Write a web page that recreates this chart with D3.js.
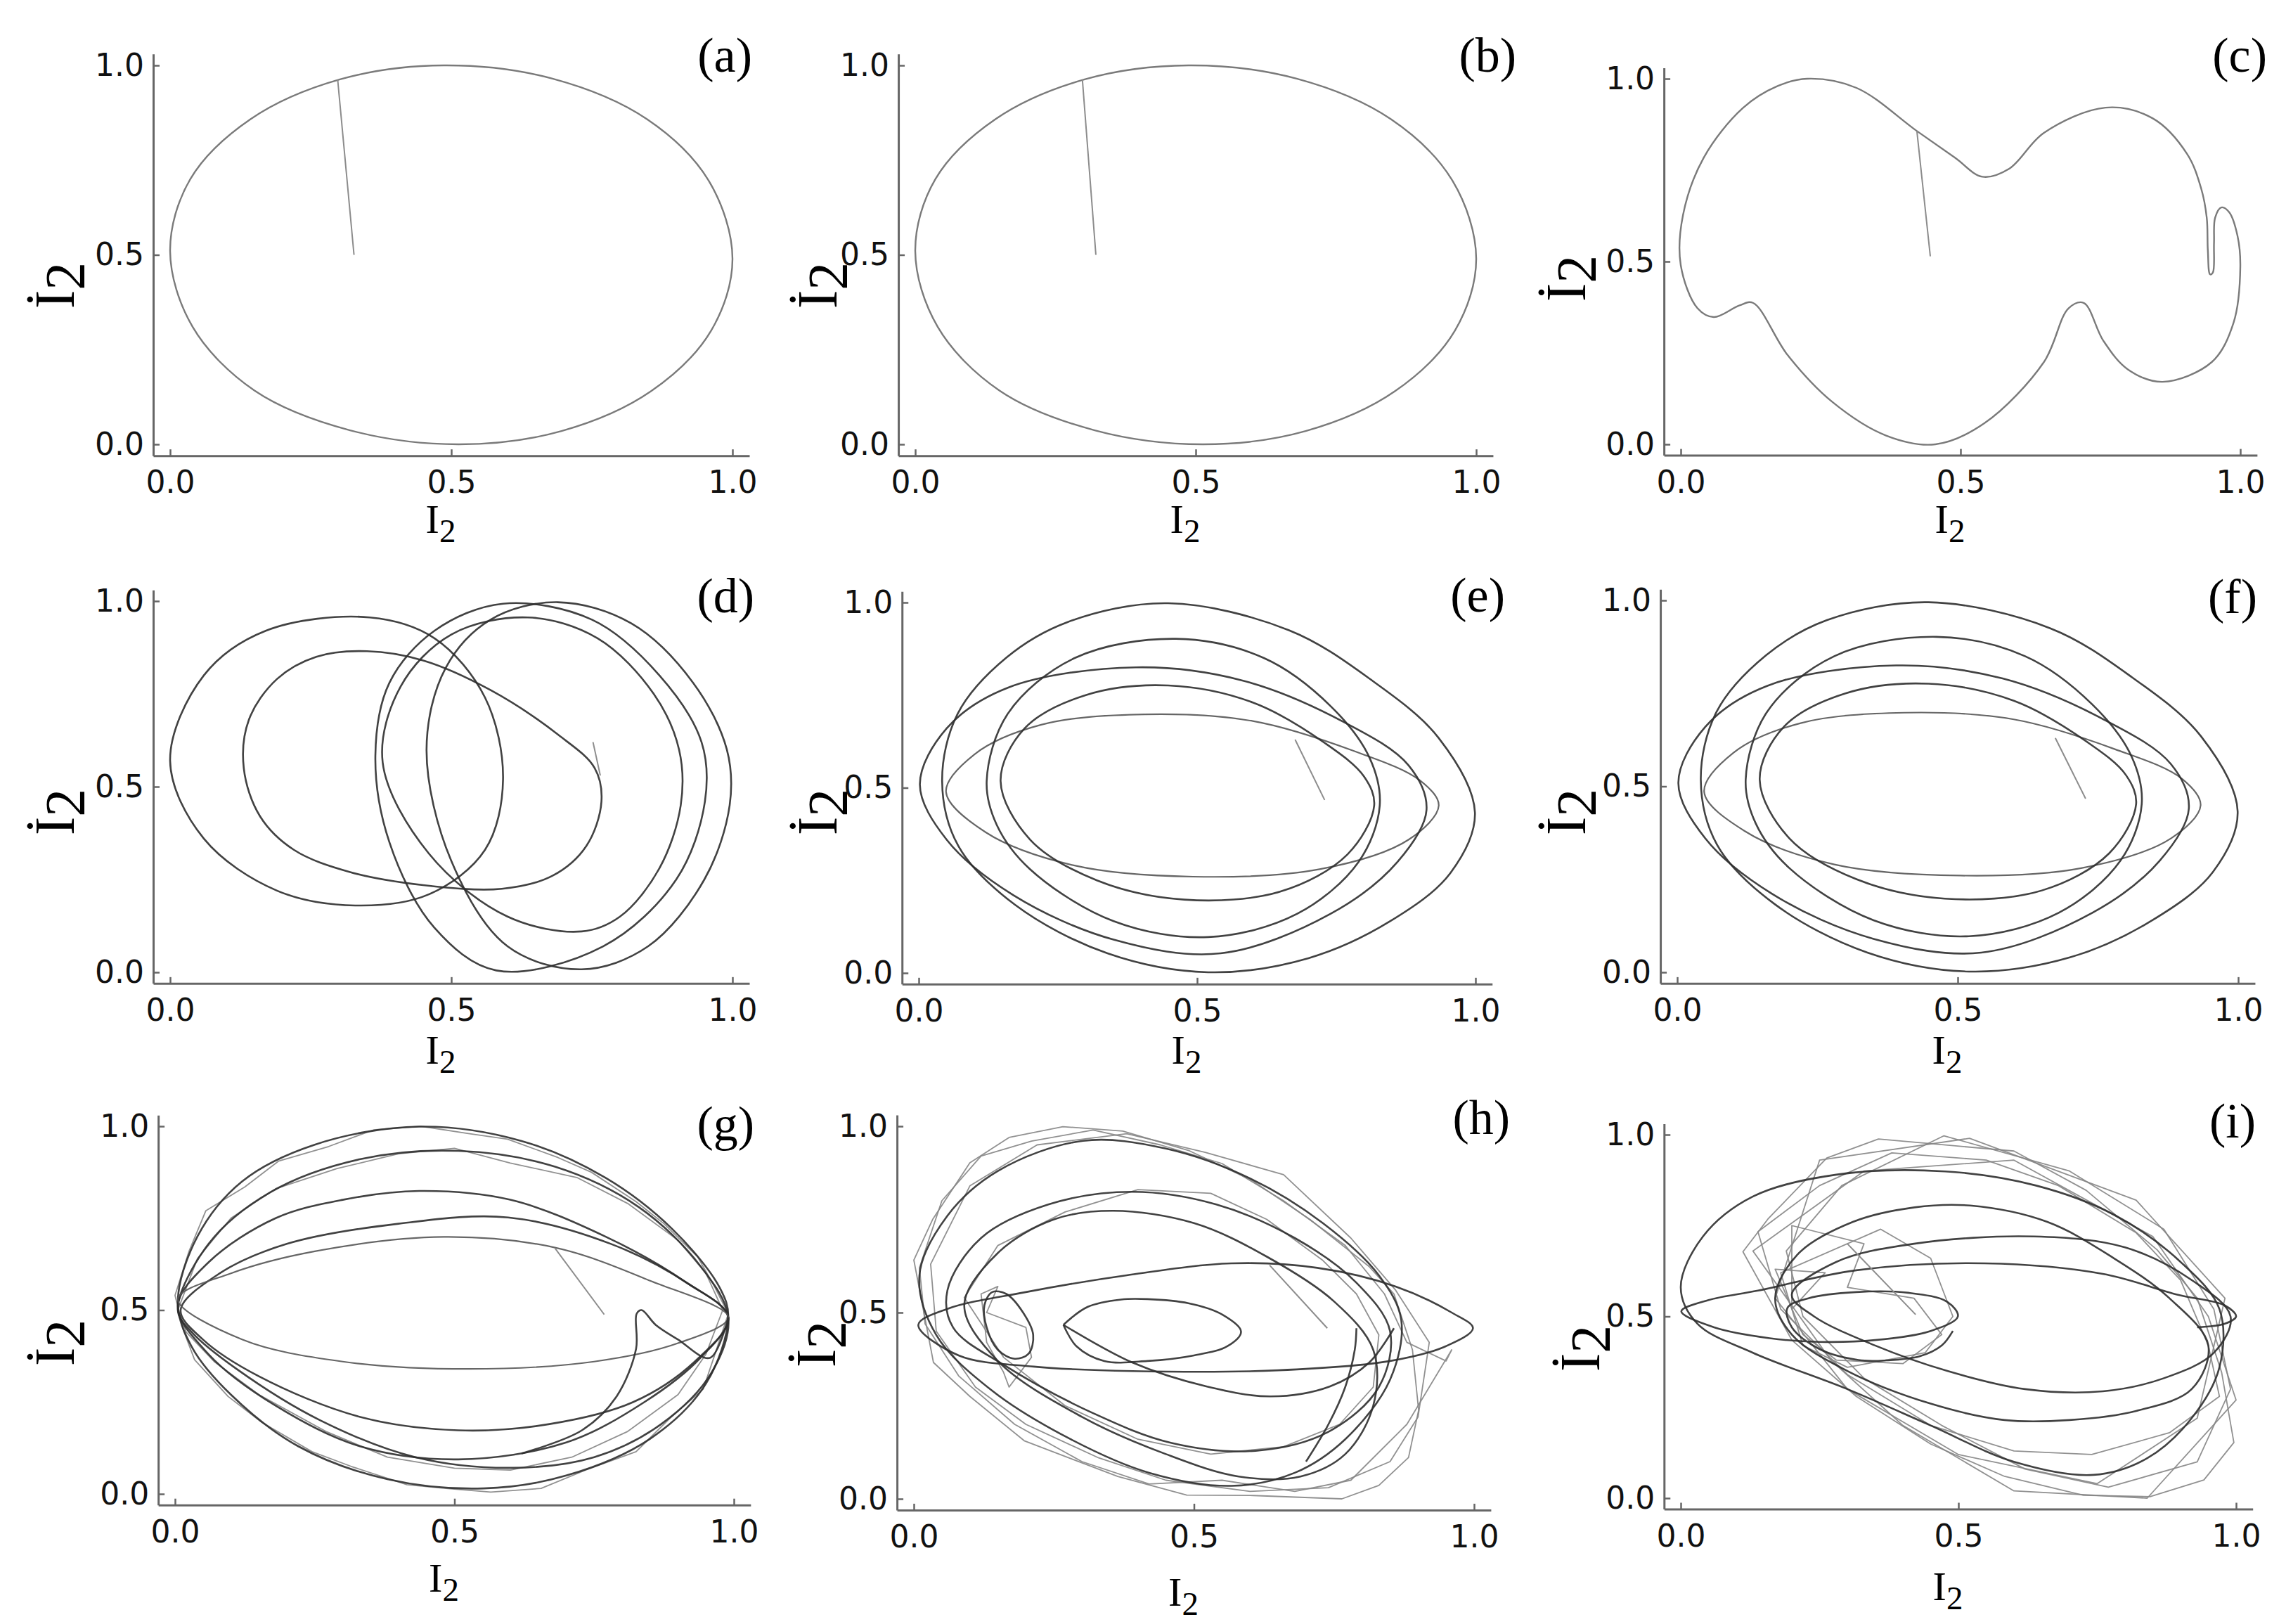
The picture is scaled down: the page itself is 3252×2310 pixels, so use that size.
<!DOCTYPE html>
<html>
<head>
<meta charset="utf-8">
<script src="https://cdn.jsdelivr.net/npm/d3@7"></script>
<style>
  body { margin: 0; background: #fff; }
  .tick text { font-family: "DejaVu Sans", sans-serif; font-size: 44px; fill: #111; }
  .axis path, .axis line { stroke: #666; }
</style>
</head>
<body>
<div id="chartDiv"></div>
<script>
;(function() {

	var width = 3252;
	var height = 2310;

	var tickValues = [0, 0.5, 1];
	var tickLabels = ["0.0", "0.5", "1.0"];
	var panelTags = ["(a)", "(b)", "(c)", "(d)", "(e)", "(f)", "(g)", "(h)", "(i)"];

	// ---- data (I2, dI2) ----
	var aOrbit = [[0.0,0.51],[0.036,0.70],[0.143,0.858],[0.302,0.963],[0.487,1.0],[0.68,0.965],[0.848,0.858],[0.958,0.695],[1.0,0.49],[0.962,0.30],[0.855,0.14],[0.696,0.035],[0.513,0.0],[0.32,0.037],[0.15,0.142],[0.04,0.31]];
	var aStart = [[0.327,0.5],[0.298,0.962]];

	var bOrbit = [[0.0,0.51],[0.036,0.70],[0.143,0.858],[0.302,0.963],[0.487,1.0],[0.68,0.965],[0.848,0.858],[0.958,0.695],[1.0,0.49],[0.962,0.30],[0.855,0.14],[0.696,0.035],[0.513,0.0],[0.32,0.037],[0.15,0.142],[0.04,0.31]];
	var bStart = [[0.322,0.5],[0.298,0.962]];

	var cOrbit = [[0.226,1.0],[0.314,0.975],[0.422,0.857],[0.49,0.784],[0.539,0.732],[0.587,0.754],[0.649,0.852],[0.759,0.921],[0.843,0.892],[0.905,0.794],[0.93,0.70],[0.94,0.62],[0.942,0.53],[0.946,0.465],[0.951,0.47],[0.953,0.55],[0.955,0.62],[0.966,0.648],[0.98,0.635],[0.995,0.57],[1.0,0.485],[0.988,0.333],[0.949,0.225],[0.861,0.171],[0.799,0.205],[0.755,0.284],[0.72,0.387],[0.693,0.372],[0.649,0.225],[0.543,0.058],[0.455,0.0],[0.367,0.024],[0.27,0.117],[0.191,0.244],[0.129,0.387],[0.105,0.38],[0.059,0.348],[0.03,0.372],[0.0,0.49],[0.004,0.627],[0.041,0.784],[0.111,0.92],[0.173,0.98]];
	var cStart = [[0.446,0.514],[0.422,0.857]];

	var dLoop1 = [[0.0,0.57],[0.06,0.80],[0.17,0.92],[0.355,0.956],[0.47,0.90],[0.56,0.74],[0.592,0.52],[0.56,0.33],[0.46,0.21],[0.329,0.18],[0.19,0.22],[0.06,0.36]];
	var dLoop2 = [[0.131,0.55],[0.14,0.68],[0.19,0.79],[0.26,0.85],[0.35,0.865],[0.45,0.84],[0.57,0.76],[0.69,0.64],[0.755,0.55],[0.767,0.46],[0.74,0.34],[0.68,0.26],[0.59,0.225],[0.45,0.235],[0.32,0.27],[0.22,0.33],[0.16,0.42]];
	var dLoop3 = [[0.365,0.584],[0.39,0.78],[0.47,0.92],[0.592,0.993],[0.75,0.95],[0.87,0.80],[0.945,0.62],[0.951,0.46],[0.90,0.25],[0.77,0.07],[0.58,0.005],[0.47,0.12],[0.39,0.35]];
	var dLoop4 = [[0.456,0.6],[0.49,0.82],[0.57,0.95],[0.689,0.997],[0.82,0.94],[0.93,0.78],[0.99,0.6],[0.995,0.45],[0.95,0.25],[0.85,0.07],[0.732,0.008],[0.6,0.07],[0.5,0.3]];
	var dLoop5 = [[0.378,0.565],[0.41,0.77],[0.50,0.91],[0.636,0.956],[0.76,0.90],[0.86,0.75],[0.905,0.6],[0.908,0.45],[0.87,0.28],[0.80,0.15],[0.732,0.11],[0.60,0.15],[0.46,0.32]];
	var dStart = [[0.752,0.62],[0.765,0.53]];

	var eThin = [[0.049,0.489],[0.10,0.59],[0.22,0.67],[0.405,0.698],[0.60,0.68],[0.78,0.60],[0.90,0.52],[0.934,0.452],[0.88,0.36],[0.72,0.28],[0.492,0.26],[0.28,0.29],[0.12,0.38]];
	var eLoop1 = [[0.042,0.518],[0.07,0.70],[0.158,0.852],[0.267,0.947],[0.448,0.998],[0.665,0.925],[0.81,0.794],[0.934,0.634],[0.999,0.433],[0.955,0.27],[0.847,0.14],[0.70,0.04],[0.52,0.002],[0.339,0.053],[0.173,0.184],[0.071,0.343]];
	var eLoop2 = [[0.002,0.509],[0.05,0.66],[0.16,0.77],[0.39,0.825],[0.58,0.79],[0.76,0.68],[0.88,0.56],[0.912,0.44],[0.86,0.30],[0.74,0.16],[0.542,0.053],[0.35,0.09],[0.17,0.21],[0.05,0.36]];
	var eLoop3 = [[0.122,0.518],[0.16,0.70],[0.28,0.85],[0.462,0.902],[0.62,0.85],[0.74,0.72],[0.81,0.58],[0.828,0.452],[0.79,0.30],[0.68,0.16],[0.52,0.097],[0.35,0.14],[0.2,0.28],[0.14,0.4]];
	var eLoop4 = [[0.147,0.518],[0.19,0.66],[0.30,0.75],[0.448,0.776],[0.60,0.73],[0.73,0.62],[0.80,0.53],[0.818,0.452],[0.77,0.32],[0.65,0.22],[0.477,0.198],[0.32,0.25],[0.2,0.36]];
	var eStart = [[0.729,0.467],[0.676,0.63]];

	var fThin = [[0.048,0.485],[0.10,0.59],[0.22,0.67],[0.405,0.698],[0.60,0.68],[0.78,0.60],[0.90,0.52],[0.933,0.449],[0.88,0.36],[0.72,0.28],[0.505,0.26],[0.28,0.29],[0.12,0.38]];
	var fLoop1 = [[0.042,0.518],[0.07,0.70],[0.158,0.852],[0.267,0.947],[0.448,0.995],[0.665,0.925],[0.81,0.794],[0.934,0.634],[0.999,0.433],[0.955,0.27],[0.847,0.14],[0.70,0.04],[0.52,0.002],[0.339,0.053],[0.173,0.184],[0.071,0.343]];
	var fLoop2 = [[0.002,0.509],[0.05,0.66],[0.16,0.77],[0.39,0.825],[0.58,0.79],[0.76,0.68],[0.88,0.56],[0.912,0.44],[0.86,0.30],[0.74,0.16],[0.542,0.053],[0.35,0.09],[0.17,0.21],[0.05,0.36]];
	var fLoop3 = [[0.122,0.518],[0.16,0.70],[0.28,0.85],[0.462,0.902],[0.62,0.85],[0.74,0.72],[0.81,0.58],[0.828,0.452],[0.79,0.30],[0.68,0.16],[0.52,0.097],[0.35,0.14],[0.2,0.28],[0.14,0.4]];
	var fLoop4 = [[0.147,0.518],[0.19,0.66],[0.30,0.75],[0.448,0.776],[0.60,0.73],[0.73,0.62],[0.80,0.53],[0.818,0.452],[0.77,0.32],[0.65,0.22],[0.477,0.198],[0.32,0.25],[0.2,0.36]];
	var fStart = [[0.728,0.467],[0.674,0.63]];

	var gLoop1 = [[0.005,0.52],[0.04,0.70],[0.12,0.85],[0.25,0.95],[0.437,0.999],[0.62,0.96],[0.77,0.86],[0.89,0.72],[0.975,0.56],[0.99,0.48],[0.95,0.30],[0.85,0.15],[0.70,0.05],[0.552,0.015],[0.38,0.04],[0.22,0.13],[0.10,0.27],[0.03,0.40]];
	var gLoop2 = [[0.005,0.5],[0.06,0.68],[0.17,0.82],[0.33,0.91],[0.507,0.933],[0.68,0.89],[0.83,0.78],[0.94,0.62],[0.99,0.48],[0.96,0.33],[0.87,0.19],[0.75,0.10],[0.605,0.071],[0.43,0.1],[0.26,0.2],[0.11,0.34],[0.03,0.44]];
	var gLoop3 = [[0.005,0.51],[0.06,0.63],[0.18,0.75],[0.30,0.80],[0.437,0.824],[0.60,0.80],[0.77,0.70],[0.91,0.58],[0.99,0.48],[0.94,0.37],[0.84,0.25],[0.70,0.14],[0.507,0.094],[0.33,0.13],[0.18,0.24],[0.06,0.38]];
	var gLoop4 = [[0.01,0.5],[0.08,0.6],[0.2,0.68],[0.40,0.735],[0.596,0.752],[0.78,0.68],[0.92,0.57],[0.99,0.48],[0.93,0.36],[0.82,0.25],[0.67,0.19],[0.507,0.173],[0.33,0.21],[0.15,0.32],[0.05,0.42]];
	var gThin = [[0.005,0.53],[0.1,0.6],[0.25,0.66],[0.481,0.699],[0.68,0.67],[0.85,0.58],[0.99,0.48],[0.9,0.41],[0.75,0.36],[0.525,0.34],[0.3,0.36],[0.12,0.42]];
	var gHook = [[0.99,0.48],[0.957,0.37],[0.9,0.42],[0.86,0.46],[0.835,0.5],[0.826,0.49],[0.825,0.395],[0.79,0.265],[0.728,0.173],[0.62,0.11]];
	var gJag1 = [[0.0,0.54],[0.025,0.66],[0.055,0.77],[0.125,0.835],[0.185,0.905],[0.275,0.945],[0.355,0.99],[0.44,1.0],[0.525,0.98],[0.595,0.965],[0.685,0.915],[0.745,0.875],[0.825,0.795],[0.875,0.735],[0.935,0.645],[0.965,0.565],[0.99,0.49],[0.965,0.375],[0.945,0.285],[0.885,0.205],[0.825,0.115],[0.735,0.065],[0.655,0.015],[0.565,0.005],[0.485,0.015],[0.415,0.025],[0.315,0.075],[0.245,0.115],[0.155,0.195],[0.095,0.265],[0.035,0.365],[0.015,0.445]];
	var gJag2 = [[0.005,0.5],[0.04,0.64],[0.1,0.75],[0.18,0.83],[0.29,0.885],[0.4,0.925],[0.5,0.94],[0.6,0.9],[0.72,0.86],[0.81,0.79],[0.9,0.69],[0.95,0.6],[0.98,0.5],[0.95,0.38],[0.9,0.27],[0.81,0.17],[0.71,0.1],[0.6,0.065],[0.5,0.07],[0.38,0.1],[0.27,0.17],[0.15,0.27],[0.07,0.36],[0.02,0.44]];
	var gStart = [[0.68,0.668],[0.768,0.488]];

	var hLoop1 = [[0.01,0.6],[0.06,0.76],[0.15,0.88],[0.302,0.961],[0.45,0.94],[0.6,0.86],[0.73,0.74],[0.83,0.6],[0.87,0.48],[0.85,0.32],[0.77,0.16],[0.68,0.07],[0.567,0.035],[0.42,0.07],[0.28,0.16],[0.14,0.29],[0.04,0.44]];
	var hLoop2 = [[0.06,0.56],[0.12,0.70],[0.24,0.79],[0.39,0.824],[0.54,0.79],[0.68,0.70],[0.79,0.58],[0.85,0.45],[0.83,0.3],[0.74,0.18],[0.61,0.129],[0.46,0.15],[0.32,0.23],[0.16,0.36],[0.07,0.46]];
	var hLoop3 = [[0.09,0.52],[0.15,0.66],[0.25,0.75],[0.356,0.773],[0.5,0.74],[0.63,0.65],[0.75,0.53],[0.82,0.4],[0.82,0.25],[0.77,0.12],[0.69,0.06],[0.58,0.06],[0.45,0.12],[0.3,0.22],[0.15,0.37]];
	var hFlat = [[0.008,0.467],[0.06,0.51],[0.2,0.555],[0.38,0.6],[0.567,0.632],[0.72,0.62],[0.86,0.57],[0.96,0.5],[0.998,0.458],[0.95,0.41],[0.85,0.37],[0.65,0.345],[0.39,0.343],[0.214,0.355],[0.08,0.385]];
	var hTear = [[0.267,0.467],[0.31,0.515],[0.37,0.535],[0.417,0.536],[0.49,0.525],[0.55,0.495],[0.584,0.449],[0.56,0.41],[0.5,0.385],[0.417,0.37],[0.34,0.37],[0.29,0.41],[0.267,0.467]];
	var hLow = [[0.267,0.467],[0.39,0.366],[0.522,0.302],[0.637,0.275],[0.743,0.302],[0.813,0.366],[0.857,0.458]];
	var hSmall = [[0.126,0.52],[0.14,0.555],[0.165,0.55],[0.195,0.5],[0.213,0.44],[0.205,0.39],[0.18,0.376],[0.15,0.40],[0.13,0.46]];
	var hHook = [[0.79,0.458],[0.787,0.4],[0.77,0.3],[0.74,0.2],[0.7,0.1]];
	var hJag1 = [[0.266,0.999],[0.373,0.987],[0.492,0.934],[0.602,0.856],[0.707,0.75],[0.813,0.623],[0.857,0.55],[0.89,0.4],[0.901,0.238],[0.883,0.111],[0.83,0.036],[0.764,0.0],[0.606,0.009],[0.487,0.01],[0.364,0.06],[0.197,0.156],[0.1,0.275],[0.035,0.366],[0.0,0.641],[0.034,0.751],[0.1,0.902],[0.17,0.97]];
	var hJag2 = [[0.21,0.96],[0.32,0.99],[0.44,0.95],[0.55,0.9],[0.66,0.8],[0.77,0.68],[0.84,0.55],[0.88,0.42],[0.95,0.37],[0.96,0.4],[0.88,0.2],[0.78,0.05],[0.68,0.02],[0.55,0.05],[0.42,0.04],[0.3,0.1],[0.18,0.2],[0.08,0.33],[0.02,0.47],[0.01,0.62],[0.05,0.8],[0.12,0.92]];
	var hJag3 = [[0.09,0.54],[0.15,0.68],[0.27,0.77],[0.4,0.83],[0.53,0.82],[0.63,0.75],[0.73,0.64],[0.79,0.55],[0.83,0.44],[0.82,0.3],[0.76,0.2],[0.66,0.14],[0.53,0.12],[0.4,0.16],[0.27,0.25],[0.16,0.38]];
	var hJag4 = [[0.1,0.84],[0.22,0.95],[0.38,0.98],[0.52,0.93],[0.66,0.87],[0.78,0.7],[0.86,0.56],[0.92,0.42],[0.9,0.22],[0.85,0.1],[0.74,0.03],[0.6,0.02],[0.45,0.05],[0.33,0.11],[0.2,0.2],[0.11,0.3],[0.04,0.45],[0.03,0.63]];
	var hJagSmall = [[0.12,0.55],[0.15,0.57],[0.13,0.5],[0.2,0.46],[0.21,0.38],[0.17,0.3],[0.16,0.34],[0.13,0.42]];
	var hStart = [[0.635,0.627],[0.738,0.458]];

	var iThin = [[0.93,0.47],[0.98,0.48],[1.0,0.5],[0.98,0.53],[0.894,0.56],[0.76,0.617],[0.547,0.646],[0.316,0.627],[0.139,0.571],[0.05,0.545],[0.001,0.514],[0.06,0.47],[0.16,0.44],[0.25,0.43],[0.35,0.435],[0.45,0.46],[0.499,0.5],[0.48,0.54],[0.41,0.565],[0.316,0.567],[0.23,0.55],[0.192,0.523],[0.2,0.47],[0.25,0.41],[0.32,0.38],[0.37,0.379],[0.43,0.39],[0.47,0.42],[0.49,0.46]];
	var iLoop1 = [[0.0,0.58],[0.04,0.72],[0.13,0.83],[0.28,0.89],[0.476,0.899],[0.64,0.86],[0.78,0.78],[0.9,0.65],[0.97,0.52],[0.97,0.36],[0.92,0.22],[0.84,0.11],[0.743,0.064],[0.6,0.1],[0.45,0.2],[0.3,0.3],[0.13,0.4],[0.03,0.48]];
	var iLoop2 = [[0.17,0.55],[0.21,0.67],[0.31,0.76],[0.421,0.8],[0.521,0.805],[0.66,0.76],[0.78,0.66],[0.88,0.55],[0.95,0.42],[0.92,0.3],[0.82,0.24],[0.7,0.215],[0.583,0.215],[0.45,0.26],[0.3,0.35],[0.2,0.45]];
	var iLoop3 = [[0.2,0.56],[0.28,0.65],[0.42,0.7],[0.636,0.72],[0.8,0.69],[0.92,0.6],[0.99,0.5],[0.96,0.4],[0.87,0.33],[0.76,0.294],[0.62,0.3],[0.48,0.35],[0.35,0.42],[0.24,0.5]];
	var iJag1 = [[0.356,0.988],[0.6,0.955],[0.73,0.847],[0.858,0.683],[0.93,0.55],[0.974,0.346],[0.996,0.153],[0.942,0.05],[0.845,0.004],[0.725,0.008],[0.583,0.06],[0.45,0.149],[0.316,0.28],[0.2,0.435],[0.112,0.678],[0.157,0.768],[0.263,0.936]];
	var iJag2 = [[0.474,0.997],[0.7,0.9],[0.87,0.74],[0.96,0.52],[0.99,0.3],[0.93,0.1],[0.77,0.03],[0.62,0.08],[0.47,0.2],[0.33,0.33],[0.22,0.5],[0.19,0.68],[0.29,0.86]];
	var iJag3 = [[0.139,0.733],[0.25,0.86],[0.38,0.95],[0.55,0.93],[0.68,0.86],[0.82,0.73],[0.9,0.6],[0.95,0.42],[0.97,0.28],[0.88,0.18],[0.74,0.12],[0.6,0.13],[0.45,0.2],[0.3,0.34],[0.18,0.52]];
	var iJag4 = [[0.25,0.93],[0.52,0.99],[0.82,0.82],[0.98,0.55],[0.93,0.22],[0.75,0.04],[0.5,0.12],[0.3,0.3],[0.17,0.55]];
	var iJag5 = [[0.13,0.68],[0.33,0.9],[0.6,0.93],[0.85,0.72],[0.95,0.5],[1.0,0.27],[0.84,0.0],[0.6,0.02],[0.4,0.2],[0.27,0.38]];
	var iJagIn = [[0.2,0.75],[0.33,0.7],[0.3,0.58],[0.42,0.55],[0.47,0.45],[0.4,0.37],[0.28,0.38],[0.22,0.45],[0.17,0.63],[0.26,0.62],[0.2,0.52]];
	var iJagIn2 = [[0.18,0.62],[0.36,0.74],[0.45,0.66],[0.49,0.5],[0.44,0.4],[0.3,0.36],[0.22,0.42]];
	var iStart = [[0.423,0.505],[0.3,0.7]];

	// series per panel: [points, kind, closed]
	var panelSeries = [
		[[aOrbit, "thin", true], [aStart, "start", false]],
		[[bOrbit, "thin", true], [bStart, "start", false]],
		[[cOrbit, "thin", true], [cStart, "start", false]],
		[[dLoop1, "dark", true], [dLoop2, "dark", true], [dLoop3, "dark", true], [dLoop4, "dark", true], [dLoop5, "dark", true], [dStart, "start", false]],
		[[eThin, "mid", true], [eLoop1, "dark", true], [eLoop2, "dark", true], [eLoop3, "dark", true], [eLoop4, "dark", true], [eStart, "start", false]],
		[[fThin, "mid", true], [fLoop1, "dark", true], [fLoop2, "dark", true], [fLoop3, "dark", true], [fLoop4, "dark", true], [fStart, "start", false]],
		[[gJag1, "jag", true], [gJag2, "jag", true], [gLoop1, "dark", true], [gLoop2, "dark", true], [gLoop3, "dark", true], [gLoop4, "dark", true], [gThin, "mid", true], [gHook, "dark", false], [gStart, "start", false]],
		[[hJag1, "jag", true], [hJag2, "jag", true], [hJag3, "jag", true], [hJag4, "jag", true], [hJagSmall, "jag", true], [hLoop1, "dark", true], [hLoop2, "dark", true], [hLoop3, "dark", true], [hFlat, "dark", true], [hTear, "dark", false], [hLow, "dark", false], [hSmall, "dark", true], [hHook, "dark", false], [hStart, "start", false]],
		[[iJag1, "jag", true], [iJag2, "jag", true], [iJag3, "jag", true], [iJag4, "jag", true], [iJag5, "jag", true], [iJagIn, "jag", true], [iJagIn2, "jag", true], [iLoop1, "dark", true], [iLoop2, "dark", true], [iLoop3, "dark", true], [iThin, "dark", false], [iStart, "start", false]]
	];

	// pixel placement of each panel: where 0 and 1 land on each axis
	var layout = [
		{ x0: 242, x1: 1042, y0: 632, y1: 93, ylx: 105, lyc: 406, xlb: 758, tx: 1070, ty: 102 },
		{ x0: 1302, x1: 2100, y0: 632, y1: 93, ylx: 1190, lyc: 406, xlb: 758, tx: 2157, ty: 102 },
		{ x0: 2391, x1: 3187, y0: 632, y1: 112, ylx: 2255, lyc: 396, xlb: 758, tx: 3225, ty: 102 },
		{ x0: 242, x1: 1042, y0: 1383, y1: 855, ylx: 105, lyc: 1155, xlb: 1513, tx: 1073, ty: 871 },
		{ x0: 1307, x1: 2099, y0: 1384, y1: 857, ylx: 1190, lyc: 1155, xlb: 1513, tx: 2141, ty: 870 },
		{ x0: 2386, x1: 3184, y0: 1383, y1: 854, ylx: 2255, lyc: 1155, xlb: 1513, tx: 3211, ty: 872 },
		{ x0: 249, x1: 1044, y0: 2125, y1: 1602, ylx: 105, lyc: 1910, xlb: 2264, tx: 1073, ty: 1622 },
		{ x0: 1300, x1: 2097, y0: 2132, y1: 1602, ylx: 1188, lyc: 1912, xlb: 2284, tx: 2148, ty: 1613 },
		{ x0: 2391, x1: 3181, y0: 2131, y1: 1614, ylx: 2275, lyc: 1918, xlb: 2276, tx: 3209, ty: 1618 }
	];

	var pad = 0.03;

	var styles = {
		thin:  { stroke: "#7a7a7a", width: 2.4, opacity: 1 },
		start: { stroke: "#8c8c8c", width: 2, opacity: 1 },
		mid:   { stroke: "#555", width: 2.2, opacity: 0.9 },
		dark:  { stroke: "#2e2e2e", width: 2.6, opacity: 0.9 },
		jag:   { stroke: "#858585", width: 1.8, opacity: 0.9 }
	};

	var chart = d3.select("#chartDiv").append("svg")
		.attr("width", width)
		.attr("height", height)
		.style("background", "#fff");

	layout.forEach(function(p, i) { drawPanel(p, i); });

	function drawPanel(p, i) {
		var per = (p.x1 - p.x0);
		var xScale = d3.scaleLinear()
			.domain([-pad, 1 + pad])
			.range([p.x0 - pad * per, p.x1 + pad * per]);
		var perY = (p.y0 - p.y1);
		var yScale = d3.scaleLinear()
			.domain([-pad, 1 + pad])
			.range([p.y0 + pad * perY, p.y1 - pad * perY]);

		var g = chart.append("g").attr("class", "panel");

		// curves
		panelSeries[i].forEach(function(s) {
			var st = styles[s[1]];
			var curve;
			if (s[1] === "jag" || s[1] === "start") {
				curve = s[2] ? d3.curveLinearClosed : d3.curveLinear;
			} else {
				curve = s[2] ? d3.curveCatmullRomClosed.alpha(0.5) : d3.curveCatmullRom.alpha(0.5);
			}
			var line = d3.line()
				.x(function(d) { return xScale(d[0]); })
				.y(function(d) { return yScale(d[1]); })
				.curve(curve);
			g.append("path")
				.datum(s[0])
				.attr("d", line)
				.attr("fill", "none")
				.attr("stroke", st.stroke)
				.attr("stroke-width", st.width)
				.attr("stroke-opacity", st.opacity)
				.attr("stroke-linejoin", "round");
		});

		// axes with inward ticks
		var xAxis = d3.axisBottom(xScale)
			.tickValues(tickValues)
			.tickFormat(function(d, k) { return tickLabels[k]; })
			.tickSizeInner(-9)
			.tickSizeOuter(0)
			.tickPadding(22);
		var yAxis = d3.axisLeft(yScale)
			.tickValues(tickValues)
			.tickFormat(function(d, k) { return tickLabels[k]; })
			.tickSizeInner(-9)
			.tickSizeOuter(0)
			.tickPadding(13);

		var xg = g.append("g")
			.attr("class", "axis")
			.attr("transform", "translate(0," + yScale(-pad) + ")")
			.call(xAxis);
		var yg = g.append("g")
			.attr("class", "axis")
			.attr("transform", "translate(" + xScale(-pad) + ",0)")
			.call(yAxis);
		xg.select(".domain").attr("stroke-width", 3);
		yg.select(".domain").attr("stroke-width", 3);
		g.selectAll(".tick line").attr("stroke-width", 2.5);

		// x label I2
		var xl = g.append("text")
			.attr("x", xScale(0.5) - 15)
			.attr("y", p.xlb)
			.attr("text-anchor", "middle")
			.style("font-family", "'Liberation Serif', serif")
			.style("font-size", "58px")
			.text("I");
		xl.append("tspan").attr("dy", 13).style("font-size", "47px").text("2");

		// y label dotted I2, rotated
		var yl = g.append("text")
			.attr("transform", "translate(" + p.ylx + "," + p.lyc + ") rotate(-90)")
			.attr("text-anchor", "middle")
			.style("font-family", "'Liberation Serif', serif")
			.style("font-size", "80px")
			.text("\u0130");
		yl.append("tspan").attr("dy", 15).text("2");

		// panel tag
		g.append("text")
			.attr("x", p.tx)
			.attr("y", p.ty)
			.attr("text-anchor", "end")
			.style("font-family", "'Liberation Serif', serif")
			.style("font-size", "70px")
			.text(panelTags[i]);
	}

})();
</script>
</body>
</html>
